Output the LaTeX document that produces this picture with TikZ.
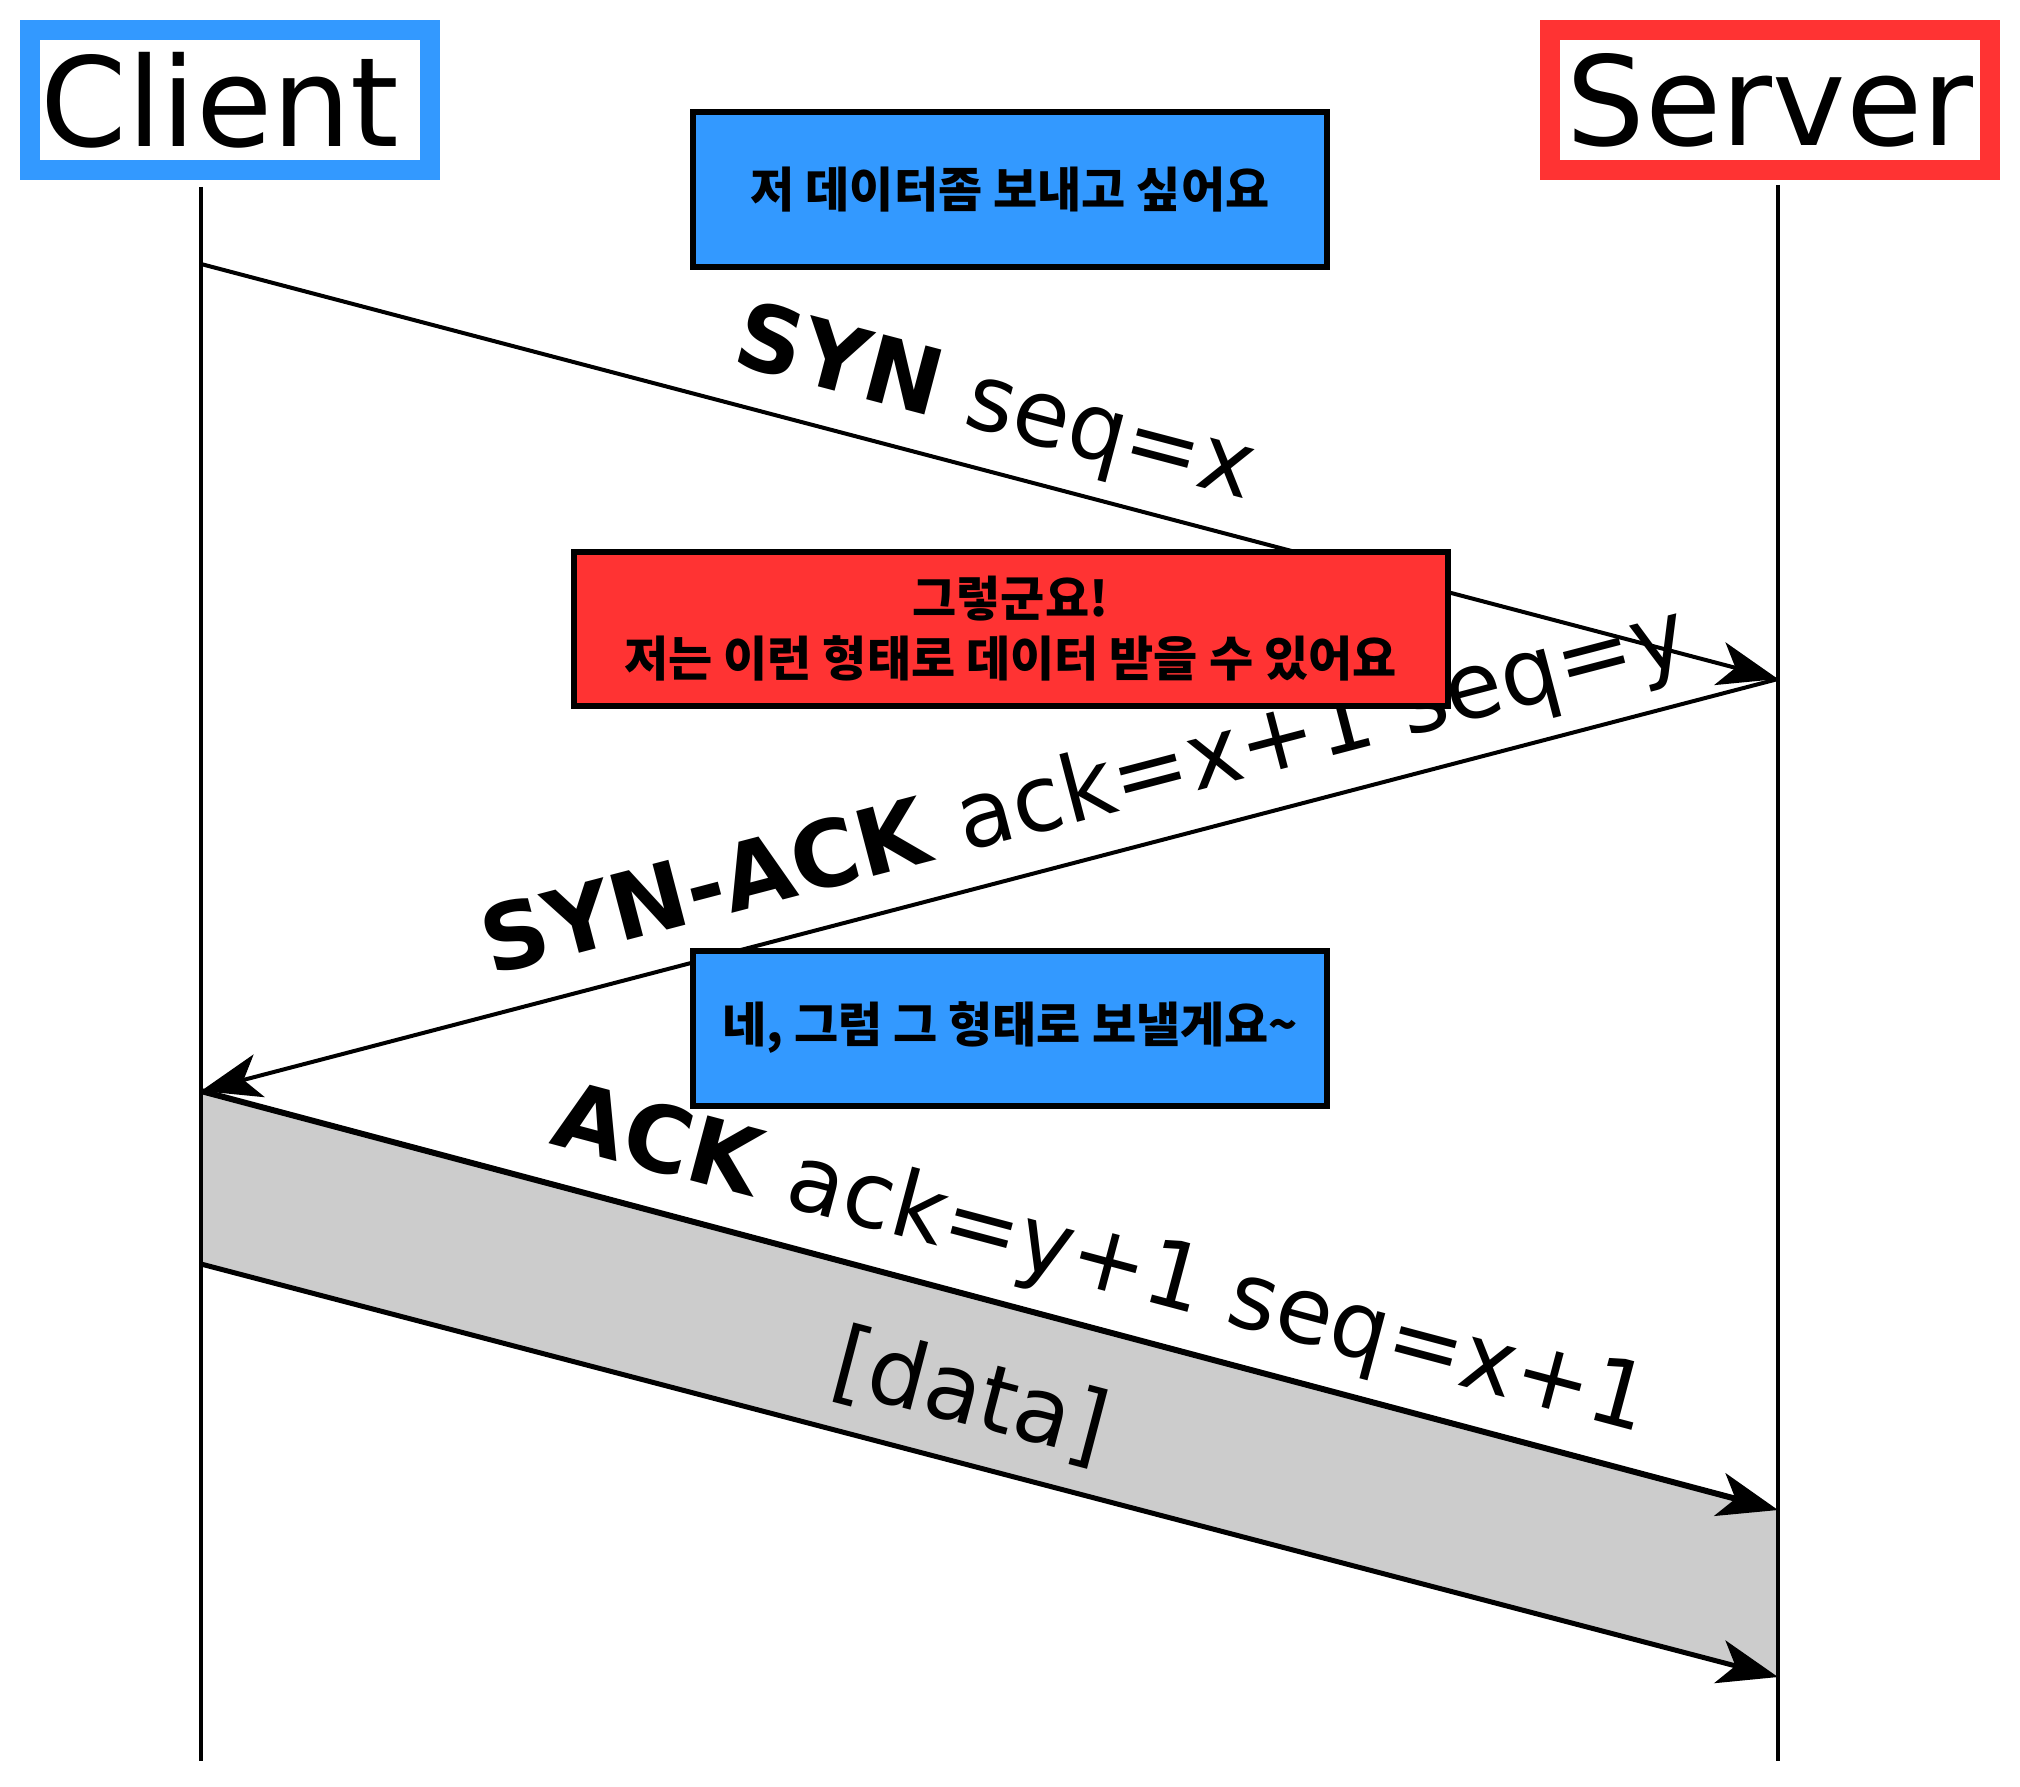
\documentclass[tikz,border=0pt]{standalone}
\usepackage{fontspec}
\setmainfont{DejaVu Sans}
\newfontfamily\kr{Noto Sans CJK KR}
\usetikzlibrary{arrows.meta}
\definecolor{cblue}{HTML}{3399FF}
\definecolor{cred}{HTML}{FF3333}
\definecolor{cgray}{HTML}{CCCCCC}
\begin{document}
\begin{tikzpicture}[x=1pt,y=-1pt,
  actor/.style={draw, line width=20pt, fill=white, minimum height=140pt, inner sep=0pt,
    font=\fontsize{124}{150}\selectfont},
  msg/.style={draw=black, line width=6pt, minimum height=155pt, inner sep=0pt, align=center,
    font=\kr\bfseries\fontsize{48}{60}\selectfont},
  life/.style={line width=4pt},
  arr/.style={-{Stealth[length=60pt,width=44pt,inset=16pt]}},
  lbl/.style={sloped, above=14pt, inner sep=0pt, text height=69pt, text depth=22pt,
    font=\fontsize{92}{100}\selectfont}
]
\useasboundingbox (0,0) rectangle (2020,1787);

\node[actor, draw=cblue, minimum width=400pt] (client) at (230,100) {Client\kern20pt};
\node[actor, draw=cred, minimum width=440pt] (server) at (1770,100) {Server};

\coordinate (cTop) at (201,187);
\coordinate (cBot) at (201,1761);
\coordinate (sTop) at (1778,185);
\coordinate (sBot) at (1778,1761);
\coordinate (c1) at (201,264);
\coordinate (s1) at (1778,679);
\coordinate (c2) at (201,1091);
\coordinate (s2) at (1778,1510);
\coordinate (c3) at (201,1264);
\coordinate (s3) at (1778,1677);

\fill[cgray] (c2) -- (s2) -- (s3) -- (c3) -- cycle;

\draw[life] (cTop) -- (cBot);
\draw[life] (sTop) -- (sBot);

\draw[arr, line width=4pt] (c1) -- node[lbl, pos=0.493] {\textbf{SYN} seq=x} (s1);
\draw[arr, line width=4pt] (s1) -- node[lbl, pos=0.429] {\textbf{SYN-ACK} ack=x+1 seq=y} (c2);
\draw[arr, line width=6pt] (c2) -- node[lbl, pos=0.560] {\textbf{ACK} ack=y+1 seq=x+1} (s2);
\draw[arr, line width=5pt] (c3) -- node[lbl, pos=0.477] {[data]} (s3);

\node[msg, fill=cblue, minimum width=634pt] (m1) at (1010,189.5) {저 데이터좀 보내고 싶어요};
\node[msg, fill=cred, minimum width=874pt, minimum height=154pt] (m2) at (1010.5,628.5) {그렇군요!\\저는 이런 형태로 데이터 받을 수 있어요};
\node[msg, fill=cblue, minimum width=634pt] (m3) at (1010,1028) {네, 그럼 그 형태로 보낼게요\char"7E};
\end{tikzpicture}
\end{document}
